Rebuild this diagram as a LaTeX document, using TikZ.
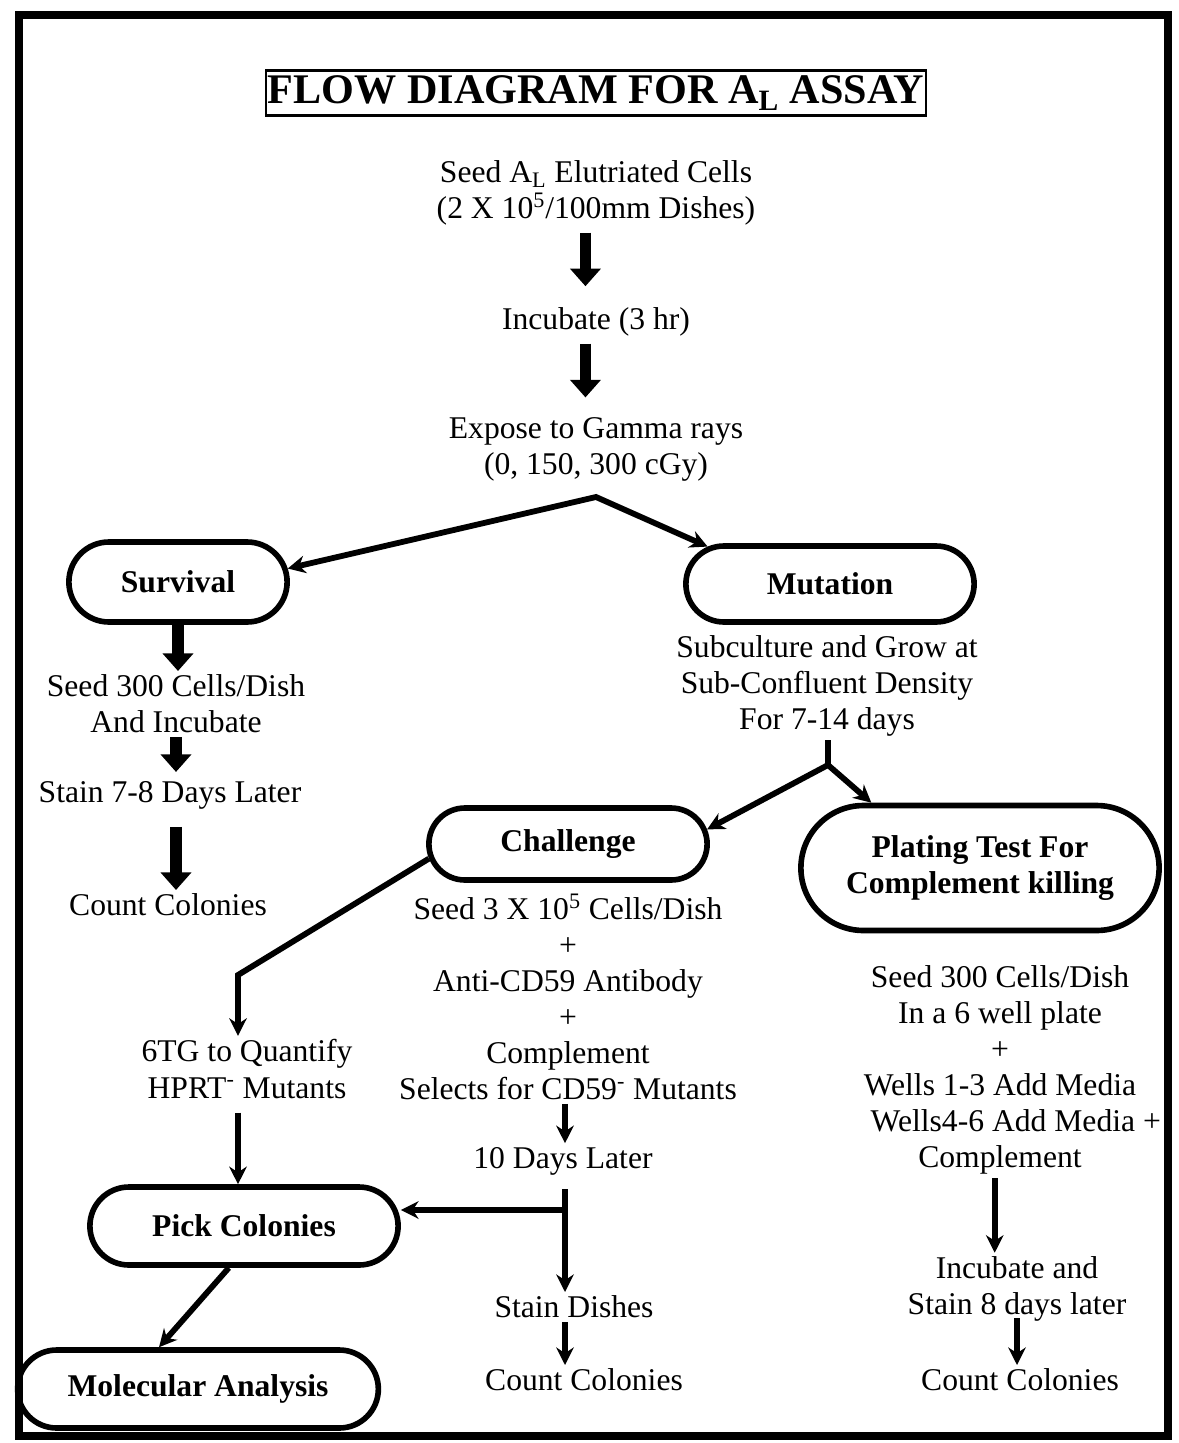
\documentclass[tikz,border=0pt]{standalone}
\usepackage{fontspec}
\setmainfont{Liberation Serif}
\usetikzlibrary{arrows.meta, positioning, shapes.misc}

\tikzset{
  >={Stealth[length=10pt, width=10pt]},
  txt/.style={align=center, inner sep=2pt, font=\fontsize{18pt}{20.5pt}\selectfont},
  pill/.style={draw, rounded rectangle, line width=3.2pt, align=center, font=\fontsize{18pt}{20.5pt}\selectfont\bfseries},
  conn/.style={line width=3.3pt, ->},
  bigarrow/.style={line width=6.5pt, -{Triangle[length=10pt, width=17pt]}},
}

\begin{document}
\begin{tikzpicture}[x=0.02cm, y=-0.02cm]
  \useasboundingbox (0,0) rectangle (1178,1443);
  \draw[line width=4.5pt] (19,15) rectangle (1168,1436);
  \node[draw, line width=1.3pt, inner xsep=1pt, inner ysep=3pt, font=\fontsize{24pt}{26pt}\selectfont\bfseries] (title) at (596,93) {FLOW DIAGRAM FOR A\textsubscript{L} ASSAY};

  % main column
  \node[txt] (seed) at (596,193) {Seed A\textsubscript{L} Elutriated Cells\\(2 X 10\textsuperscript{5}/100mm Dishes)};
  \node[txt] (incub) at (596,322) {Incubate (3 hr)};
  \node[txt] (expose) at (596,449) {Expose to Gamma rays\\(0, 150, 300 cGy)};
  \coordinate (split) at (596,497);
  \draw[bigarrow, shorten <=2pt, shorten >=10pt] ([xshift=-6pt]seed.south) -- ([xshift=-6pt]incub.north);
  \draw[bigarrow, shorten <=2pt, shorten >=9pt] ([xshift=-6pt]incub.south) -- ([xshift=-6pt]expose.north);

  \node[pill, minimum width=4.6cm, minimum height=1.6cm] (surv) at (178,582) {Survival};
  \node[pill, minimum width=6cm, minimum height=1.52cm] (mut) at (830,584) {Mutation};
  \draw[conn, <->] (surv.7) -- (split) -- (mut.163);

  % survival branch
  \node[txt] (seed300) at (176,704) {Seed 300 Cells/Dish\\And Incubate};
  \node[txt] (stain78) at (170,795) {Stain 7-8 Days Later};
  \node[txt] (countA) at (168,905) {Count Colonies};
  \draw[bigarrow] (surv.south) -- (surv.south |- seed300.north);
  \draw[bigarrow, shorten >=3pt] (seed300.south) -- (seed300.south |- stain78.north);
  \draw[bigarrow, shorten <=8pt] (seed300.south |- stain78.south) -- (seed300.south |- countA.north);

  % mutation branch
  \node[txt] (subc) at (827,686) {Subculture and Grow at\\Sub-Confluent Density\\For 7-14 days};
  \coordinate (fork) at (828,765);
  \node[pill, minimum width=5.8cm, minimum height=1.44cm] (chal) at (568,844) {Challenge};
  \node[pill, minimum width=7.4cm, minimum height=2.5cm] (plate) at (980,868) {Plating Test For\\Complement killing};
  \draw[line width=3.3pt] (subc.south -| fork) -- (fork);
  \draw[conn, <->] (chal.6) -- (fork) -- (plate.149);

  % challenge
  \node[txt] (chaltxt) at (568,997) {Seed 3 X 10\textsuperscript{5} Cells/Dish\\+\\Anti-CD59 Antibody\\+\\Complement\\Selects for CD59\textsuperscript{-} Mutants};
  \node[txt] (ten) at (563,1161) {10 Days Later};
  \coordinate (branch) at (565,1210);
  \node[txt] (staind) at (574,1307) {Stain Dishes};
  \node[txt] (countB) at (584,1380) {Count Colonies};
  \draw[conn] (chaltxt.south -| branch) -- (ten.north -| branch);
  \draw[conn, shorten <=6pt] (ten.south -| branch) -- (branch |- staind.north);
  \draw[conn] (staind.south -| branch) -- (countB.north -| branch);

  % mutants
  \coordinate (elbow) at (238,975);
  \node[txt] (sixtg) at (247,1069) {6TG to Quantify\\HPRT\textsuperscript{-} Mutants};
  \node[pill, minimum width=6.4cm, minimum height=1.56cm] (pick) at (244,1226) {Pick Colonies};
  \node[pill, minimum width=7.45cm, minimum height=1.56cm] (mol) at (198,1389) {Molecular Analysis};
  \draw[conn] (chal.186) -- (elbow) -- (elbow |- sixtg.north);
  \draw[conn, shorten <=6pt] (sixtg.south -| elbow) -- (pick.north -| elbow);
  \draw[conn] (branch) -- (branch -| pick.east);
  \draw[conn] (pick.250) -- (mol.133);

  % plating test
  \node[txt] (platetxt) at (1000,1070) {Seed 300 Cells/Dish\\In a 6 well plate\\+\\Wells 1-3 Add Media\\\hspace*{1em}Wells4-6 Add Media +\\Complement};
  \node[txt] (incst) at (1017,1289) {Incubate and\\Stain 8 days later};
  \node[txt] (countC) at (1020,1380) {Count Colonies};
  \draw[conn] ([xshift=-3pt]platetxt.south) -- ([xshift=-3pt]platetxt.south |- incst.north);
  \draw[conn] ([yshift=4pt]incst.south) -- (incst.south |- countC.north);
\end{tikzpicture}
\end{document}
